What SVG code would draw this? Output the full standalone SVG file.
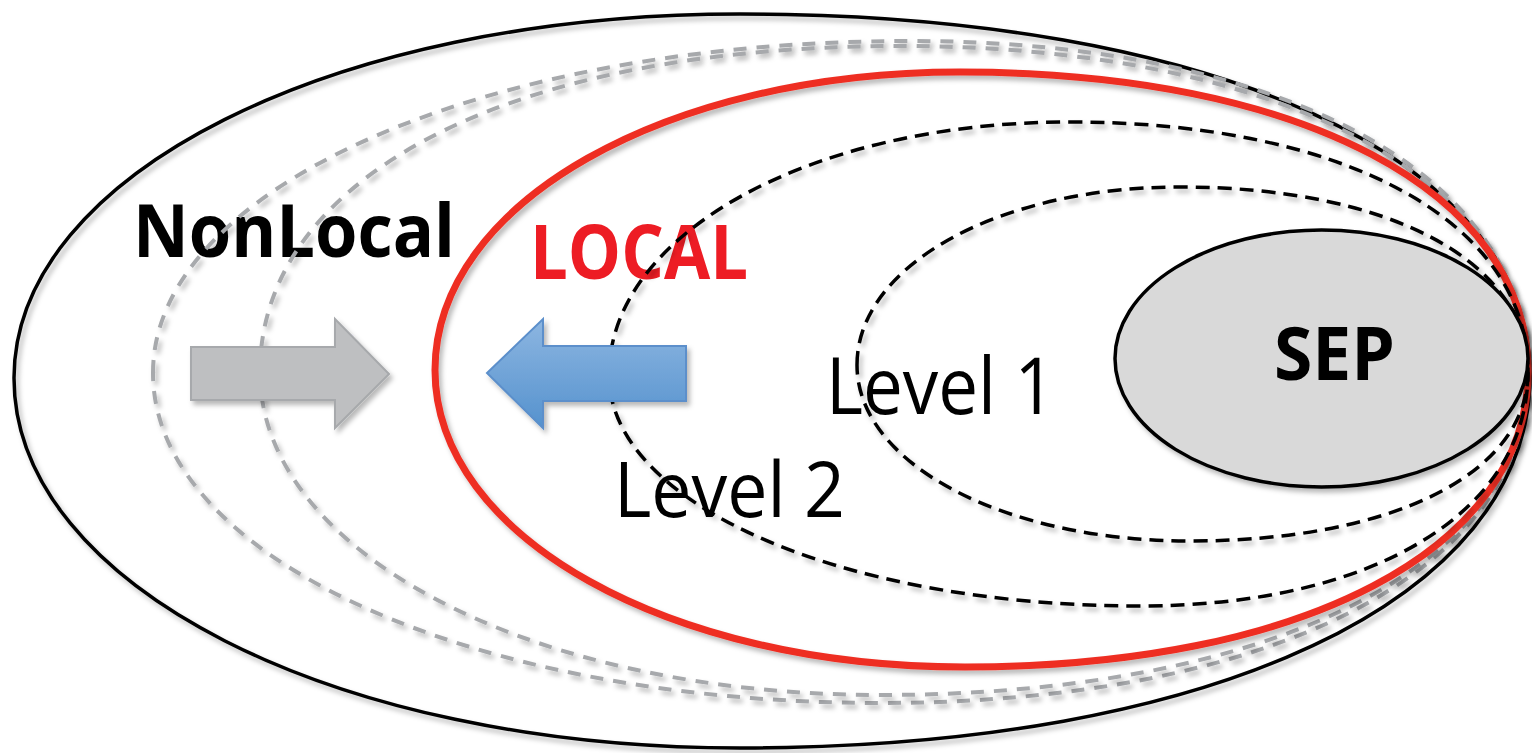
<svg xmlns="http://www.w3.org/2000/svg" width="1532" height="753" viewBox="0 0 1532 753">
  <defs>
    <filter id="sh" x="-5%" y="-5%" width="110%" height="115%">
      <feDropShadow dx="3" dy="4" stdDeviation="2.5" flood-color="#000" flood-opacity="0.28"/>
    </filter>
    <linearGradient id="blueGrad" x1="0" y1="0" x2="0" y2="1">
      <stop offset="0" stop-color="#8DB6E1"/>
      <stop offset="1" stop-color="#5592CE"/>
    </linearGradient>
    <style>
      .curve { fill: none; filter: url(#sh); }
      .outer { stroke: #000; stroke-width: 3.5; }
      .gray { stroke: #A7A9AC; stroke-width: 4; stroke-dasharray: 13 10; }
      .red { stroke: #EE2E24; stroke-width: 7; }
      .lvl { stroke: #000; stroke-width: 3.5; stroke-dasharray: 14 8; }
      .label { font-family: "Open Sans", "Liberation Sans", sans-serif; }
      .bold { font-weight: bold; }
    </style>
  </defs>
  <rect width="1532" height="753" fill="#fff"/>

  <g id="labels">
    <text id="nonlocal-label" class="label bold" x="133" y="257" font-size="74" textLength="322" lengthAdjust="spacingAndGlyphs" fill="#000">NonLocal</text>
    <text id="local-label" class="label bold" x="530" y="279" font-size="75" textLength="218" lengthAdjust="spacingAndGlyphs" fill="#ED1C24">LOCAL</text>
    <text id="level1-label" class="label" x="826" y="414" font-size="78" textLength="229" lengthAdjust="spacingAndGlyphs" fill="#000">Level 1</text>
    <text id="level2-label" class="label" x="614" y="517" font-size="76" textLength="231" lengthAdjust="spacingAndGlyphs" fill="#000">Level 2</text>
  </g>

  <g id="region-outer">
    <path class="curve outer" d="M14,378 C14,174.2 333.4,14 740,14 C1214,14 1530,158.8 1530,376 C1530,599.2 1214,748 740,748 C333.4,748 14,585.2 14,378 Z"/>
  </g>
  <g id="region-nonlocal-1">
    <path class="curve gray" d="M153,373 C153,187.1 486.1,41 910,41 C1280.8,41 1528,174.2 1528,374 C1528,571.4 1268.8,703 880,703 C472.9,703 153,557.8 153,373 Z"/>
  </g>
  <g id="region-nonlocal-2">
    <path class="curve gray" d="M260,372 C260,176.4 510,46 900,46 C1276,46 1528,177.2 1528,374 C1528,566.6 1268.8,695 880,695 C532.8,695 260,552.9 260,372 Z"/>
  </g>
  <g id="region-local">
    <path class="curve red" d="M435,370 C435,203.1 666,72 960,72 C1300.8,72 1528,192 1528,372 C1528,549 1302.8,667 965,667 C668.2,667 435,536.3 435,370 Z"/>
  </g>
  <g id="region-level2">
    <path class="curve lvl" d="M609,375 C609,233.3 811.8,122 1070,122 C1344.8,122 1528,222 1528,372 C1528,512.4 1372.8,606 1140,606 C842.6,606 609,504.4 609,375 Z"/>
  </g>
  <g id="region-level1">
    <path class="curve lvl" d="M857,365 C857,265.3 999.1,187 1180,187 C1388.8,187 1528,261 1528,372 C1528,473.4 1392.8,541 1190,541 C1003.5,541 857,463.6 857,365 Z"/>
  </g>

  <g id="sep">
    <ellipse cx="1321.5" cy="358.5" rx="206.5" ry="128.5" fill="#D9D9D9" stroke="#000" stroke-width="3.5" filter="url(#sh)"/>
    <text class="label bold" x="1334.5" y="380" font-size="74" text-anchor="middle" textLength="121" lengthAdjust="spacingAndGlyphs" fill="#000">SEP</text>
  </g>

  <g id="arrows">
    <g id="arrow-gray">
      <polygon points="191,347 335,347 335,319 389,374 335,428 335,400 191,400" fill="#BEBFC1" stroke="#A7A9AC" stroke-width="2" filter="url(#sh)"/>
    </g>
    <g id="arrow-blue">
      <polygon points="686,346 543,346 543,319 487,373 543,428 543,401 686,401" fill="url(#blueGrad)" stroke="#5B8FCB" stroke-width="2" filter="url(#sh)"/>
    </g>
  </g>
</svg>
